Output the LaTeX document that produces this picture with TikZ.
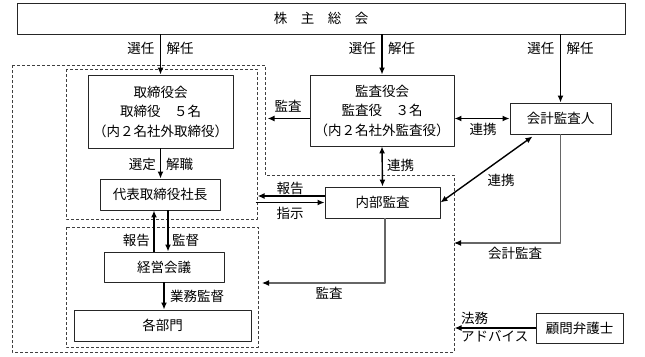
\documentclass[tikz,border=0pt]{standalone}
\usepackage{fontspec}
\setmainfont{Noto Sans CJK JP}
\usetikzlibrary{arrows.meta}
\tikzset{
  box/.style={draw=black!85, line width=0.9pt, inner sep=0pt, align=center},
  arr/.style={line width=1.4pt, -{Latex[length=7pt,width=6pt]}},
  darr/.style={line width=1.4pt, {Latex[length=7pt,width=6pt]}-{Latex[length=7pt,width=6pt]}},
  garr/.style={draw=black!60, line width=1.1pt, -{Latex[length=7pt,width=6pt,black]}},
  dashbox/.style={densely dashed, line width=0.8pt, draw=black!75},
  lbl/.style={inner sep=0pt}
}
\begin{document}
\begin{tikzpicture}[x=1pt,y=-1pt,font=\fontsize{13.5}{19.5}\selectfont,line join=round]
\useasboundingbox (0,0) rectangle (645,356);
% dashed frames
\draw[dashbox] (12,65) -- (265,65) -- (265,175) -- (454,175) -- (454,352) -- (12,352) -- cycle;
\draw[dashbox] (66,69) rectangle (257,219);
\draw[dashbox] (66,227) rectangle (258,347);
% boxes
\node[box, minimum width=608, minimum height=31] (soukai) at (321,18.5) {株　主　総　会};
\node[box, minimum width=145, minimum height=73] (torishimari) at (160.5,111.5) {取締役会\\取締役　５名\\（内２名社外取締役）};
\node[box, minimum width=144, minimum height=71] (kansayaku) at (382,110.5) {監査役会\\監査役　３名\\（内２名社外監査役）};
\node[box, minimum width=101, minimum height=31] (kaikei) at (560.5,118.5) {会計監査人};
\node[box, minimum width=120, minimum height=31] (daihyo) at (160,194.5) {代表取締役社長};
\node[box, minimum width=120, minimum height=30] (keiei) at (164,267) {経営会議};
\node[box, minimum width=177, minimum height=31] (bumon) at (162.5,325.5) {各部門};
\node[box, minimum width=115, minimum height=31] (naibu) at (382.5,202.5) {内部監査};
\node[box, minimum width=87, minimum height=30] (komon) at (579.5,328) {顧問弁護士};
% shareholders
\foreach \n in {torishimari,kansayaku,kaikei}{
  \draw[arr] (soukai.south -| \n.north) -- (\n.north);
  \path (soukai.south -| \n.north) ++(-6,14) node[lbl,anchor=east]{選任} ++(12,0) node[lbl,anchor=west]{解任};
}
% board side
\draw[arr] (torishimari.south) -- (torishimari.south |- daihyo.north);
\node[lbl,anchor=east] at (156,164) {選定};
\node[lbl,anchor=west] at (166,164) {解職};
\draw[arr] ([xshift=-10pt]keiei.north) -- ([xshift=-6pt]daihyo.south);
\draw[arr] ([xshift=8pt]daihyo.south) -- ([xshift=4pt]keiei.north);
\node[lbl,anchor=east] at (150,240) {報告};
\node[lbl,anchor=west] at (172,240) {監督};
\draw[arr] (keiei.south) -- (keiei.south |- bumon.north);
\node[lbl,anchor=west] at (170,296) {業務監督};
% audit side
\draw[arr] (kansayaku.west |- kaikei.west) -- +(-42,0);
\node[lbl] at (288,106) {監査};
\draw[darr] (kansayaku.east |- kaikei.west) -- (kaikei.west);
\node[lbl] at (483,129) {連携};
\draw[darr] (kansayaku.south) -- (naibu.north);
\node[lbl,anchor=west] at (387,165) {連携};
\draw[arr] ([yshift=6.5pt]naibu.west) -- +(-67,0);
\draw[arr] ([xshift=-69pt]naibu.west) -- (naibu.west);
\node[lbl] at (290,188) {報告};
\node[lbl] at (290,213) {指示};
\draw[darr] (naibu.east) -- ([xshift=23pt,yshift=-2pt]kaikei.south west);
\node[lbl] at (501,180) {連携};
\coordinate (kaiend) at (454,243);
\draw[garr] (kaikei.south) |- (kaiend);
\node[lbl] at (515,253) {会計監査};
\coordinate (naiend) at (262,283);
\draw[garr] ([xshift=2.5pt]naibu.south) |- (naiend);
\node[lbl] at (329,293) {監査};
\draw[arr] (komon.west) -- +(-81,0);
\node[lbl,anchor=west] at (461,318) {法務};
\node[lbl,anchor=west] at (461,336) {アドバイス};
\end{tikzpicture}
\end{document}
